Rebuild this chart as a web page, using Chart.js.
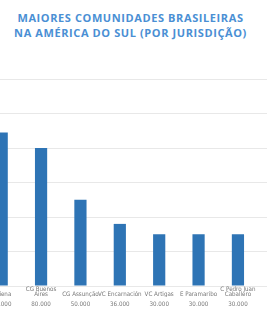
<!DOCTYPE html>
<html>
<head>
<meta charset="utf-8">
<script src="https://cdn.jsdelivr.net/npm/chart.js@4"></script>
<style>
  html, body { margin: 0; padding: 0; width: 267px; height: 322px; overflow: hidden; background: #fff; }
  #titulo {
    position: absolute; left: 0; top: 10px; width: 261px; text-align: center;
    font-family: "Open Sans", sans-serif; font-weight: bold; font-size: 11px; line-height: 15px;
    letter-spacing: 0.6px; color: #4a8fd4;
  }
  #wrap { position: absolute; left: -18px; top: 40px; width: 315px; height: 282px; }
</style>
</head>
<body>
<div id="titulo">MAIORES COMUNIDADES BRASILEIRAS<br>NA AMÉRICA DO SUL (POR JURISDIÇÃO)</div>
<div id="wrap"><canvas id="myChart"></canvas></div>
<script>
// jurisdições e número estimado de brasileiros
// (linha vazia no início para alinhar por baixo como no Excel)
var categorias = [['', 'Caiena'], ['CG Buenos', 'Aires'], ['', 'CG Assunção'], ['', 'VC Encarnación'], ['', 'VC Artigas'], ['', 'E Paramaribo'], ['C Pedro Juan', 'Caballero'], ['', 'C Salto']];
var valores = [89000, 80000, 50000, 36000, 30000, 30000, 30000, 25000];
var rotulosValores = ['89.000', '80.000', '50.000', '36.000', '30.000', '30.000', '30.000', '25.000'];

var fonteRotulos = '"Liberation Sans Narrow", "DejaVu Sans Condensed", "Liberation Sans", sans-serif';

var ctx = document.getElementById('myChart').getContext('2d');
var chart = new Chart(ctx, {
    type: 'bar',
    data: {
        labels: categorias,
        datasets: [{
            data: valores,
            backgroundColor: '#2e74b5',
            barPercentage: 0.62,
            categoryPercentage: 0.5
        }]
    },
    options: {
        responsive: true,
        maintainAspectRatio: false,
        animation: false,
        layout: { padding: { top: 39, bottom: 13 } },
        plugins: { legend: { display: false }, tooltip: { enabled: false } },
        scales: {
            x: {
                grid: { display: false, drawTicks: false },
                border: { display: false },
                ticks: {
                    autoSkip: false, maxRotation: 0, padding: 1,
                    color: '#777777',
                    font: { family: fonteRotulos, size: 6.2, lineHeight: 0.8 }
                },
                afterFit: function(s) { s.height = 11; }
            },
            x2: {
                type: 'category',
                position: 'bottom',
                labels: rotulosValores,
                grid: { display: false, drawTicks: false },
                border: { display: false },
                ticks: {
                    autoSkip: false, maxRotation: 0, padding: 4,
                    color: '#777777',
                    font: { family: fonteRotulos, size: 6.2 }
                },
                afterFit: function(s) { s.height = 12; }
            },
            y: {
                min: 0,
                max: 120000,
                ticks: { display: false, stepSize: 20000 },
                grid: { color: '#e8e8e8', lineWidth: 1, drawTicks: false },
                border: { display: false }
            }
        }
    }
});
</script>
</body>
</html>
